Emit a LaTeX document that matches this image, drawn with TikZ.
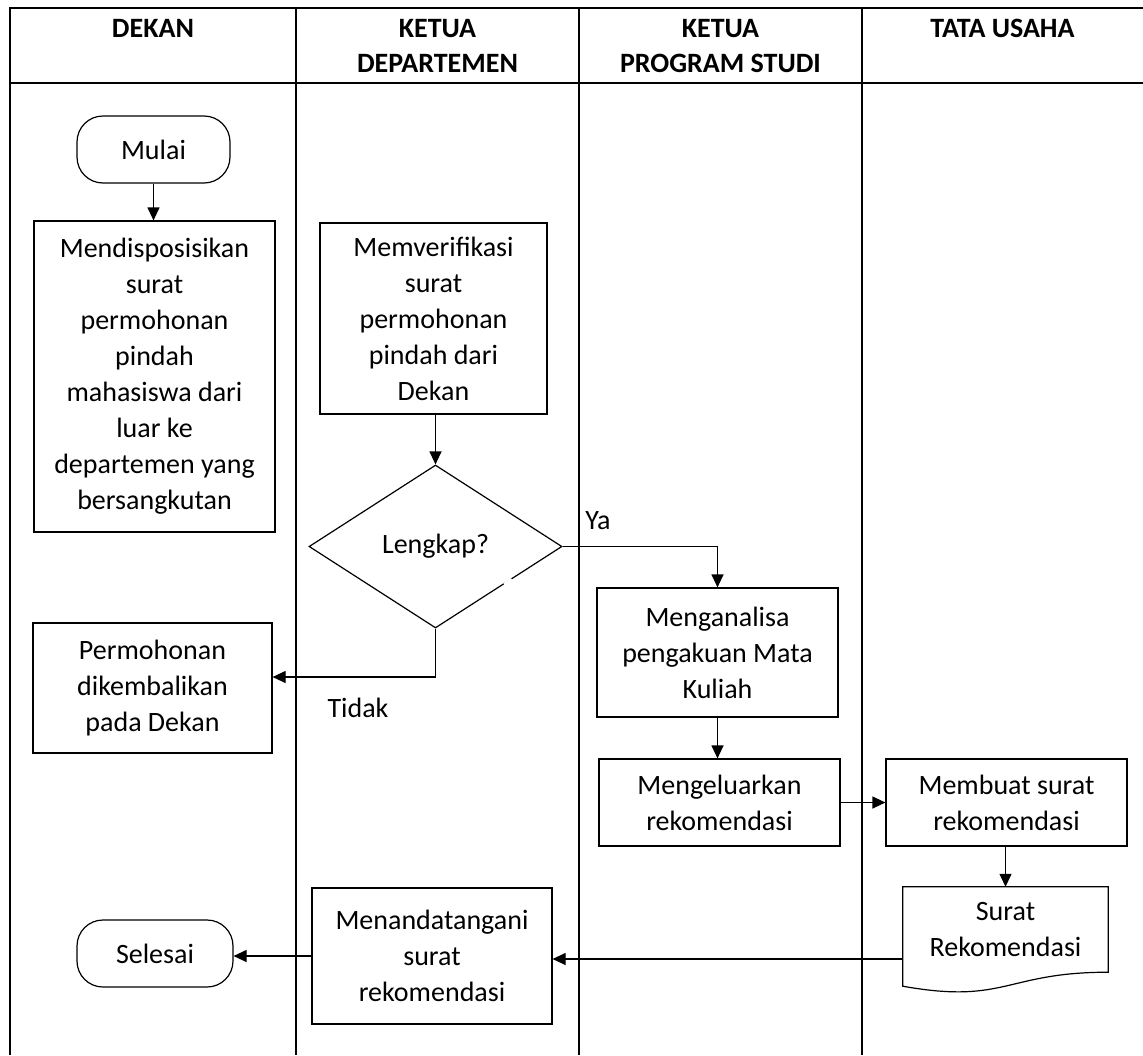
\documentclass[tikz,border=0pt]{standalone}
\usepackage{fontspec}
\setmainfont{Carlito}
\usetikzlibrary{shapes.geometric,arrows.meta,calc}
\begin{document}
\begin{tikzpicture}[x=1pt,y=-1pt,
  lane/.style={line width=2pt},
  txt/.style={font=\fontsize{28}{36}\selectfont},
  proc/.style={draw, line width=1.2pt, rectangle, align=center, inner sep=0pt, txt},
  term/.style={draw, line width=1.2pt, rectangle, rounded corners=26pt, inner sep=0pt, txt},
  hdr/.style={font=\fontsize{28}{35}\selectfont\bfseries, align=center, inner sep=0pt},
  arr/.style={line width=1.2pt, -{Triangle[length=13pt,width=12pt]}}]
\useasboundingbox (0,0) rectangle (1143,1055);
% swimlanes
\draw[lane] (10,8) -- (1143,8);
\draw[lane] (10,83) -- (1143,83);
\draw[lane] (10,7) -- (10,1055);
\draw[lane] (296,8) -- (296,1055);
\draw[lane] (579,8) -- (579,1055);
\draw[lane] (862,8) -- (862,1055);
% headers
\node[hdr] (h1) at (153,28.5) {DEKAN};
\node[hdr] (h2) at (437.5,46) {KETUA\\DEPARTEMEN};
\node[hdr] (h3) at (720.5,46) {KETUA\\PROGRAM STUDI};
\node[hdr] (h4) at (1002.5,28.5) {TATA USAHA};
% nodes
\node[term, minimum width=153pt, minimum height=67pt] (mulai) at (153.5,149.5) {Mulai};
\node[proc, minimum width=241pt, minimum height=311pt] (disp) at (154.5,376.5)
  {Mendisposisikan\\surat\\permohonan\\pindah\\mahasiswa dari\\luar ke\\departemen yang\\bersangkutan};
\node[proc, minimum width=227pt, minimum height=191pt] (verif) at (433.5,318.5)
  {Memverifikasi\\surat\\permohonan\\pindah dari\\Dekan};
\node[draw, diamond, line width=1.2pt, minimum width=253pt, minimum height=163pt,
  inner sep=0pt, aspect=1.55, txt] (d) at (435.5,546.5) {Lengkap?};
\node[proc, minimum width=239pt, minimum height=130pt] (perm) at (152.5,688)
  {Permohonan\\dikembalikan\\pada Dekan};
\node[proc, minimum width=241pt, minimum height=129pt] (anal) at (717.5,652.5)
  {Menganalisa\\pengakuan Mata\\Kuliah};
\node[proc, minimum width=241pt, minimum height=87pt] (keluar) at (719.5,802.5)
  {Mengeluarkan\\rekomendasi};
\node[proc, minimum width=241pt, minimum height=87pt] (buat) at (1006.5,802.5)
  {Membuat surat\\rekomendasi};
\node[align=center, inner sep=0pt, minimum width=205pt, minimum height=85pt, txt] (doc) at (1005.5,929.5)
  {Surat\\Rekomendasi};
\draw[line width=1.2pt] ($(doc.south west)+(0,14)$) -- (doc.north west) -- (doc.north east) -- (doc.south east)
  .. controls (doc.south) and ($(doc.south)+(0,32.4)$) .. ($(doc.south west)+(0,14)$) -- cycle;
\node[proc, minimum width=240pt, minimum height=136pt] (tanda) at (432,956)
  {Menandatangani\\surat\\rekomendasi};
\node[term, minimum width=156pt, minimum height=67pt] (selesai) at (155,953.5) {Selesai};
% labels
\node[txt] (ya) at (598,521) {Ya};
\node[txt] (tidak) at (358,708) {Tidak};
% small gap in the diamond edge
\draw[white, line width=3pt] ($(d.east)!0.40!(d.south)$) -- ($(d.east)!0.46!(d.south)$);
% connectors
\draw[arr] (mulai.south) -- (mulai.south |- disp.north);
\draw[arr] (verif.south -| d.north) -- (d.north);
\draw[arr] (d.east) -| (anal.north);
\draw[arr] (d.south) |- ([yshift=11pt]perm.east);
\draw[arr] (anal.south) -- (anal.south |- keluar.north);
\draw[arr] (keluar.east) -- (buat.west);
\draw[arr] (buat.south -| doc.north) -- (doc.north);
\coordinate (dw) at ([yshift=-29.5pt]doc.west);
\draw[arr] (dw) -- (tanda.east |- dw);
\draw[arr] (tanda.west) -- (selesai.east |- tanda.west);
\end{tikzpicture}
\end{document}
